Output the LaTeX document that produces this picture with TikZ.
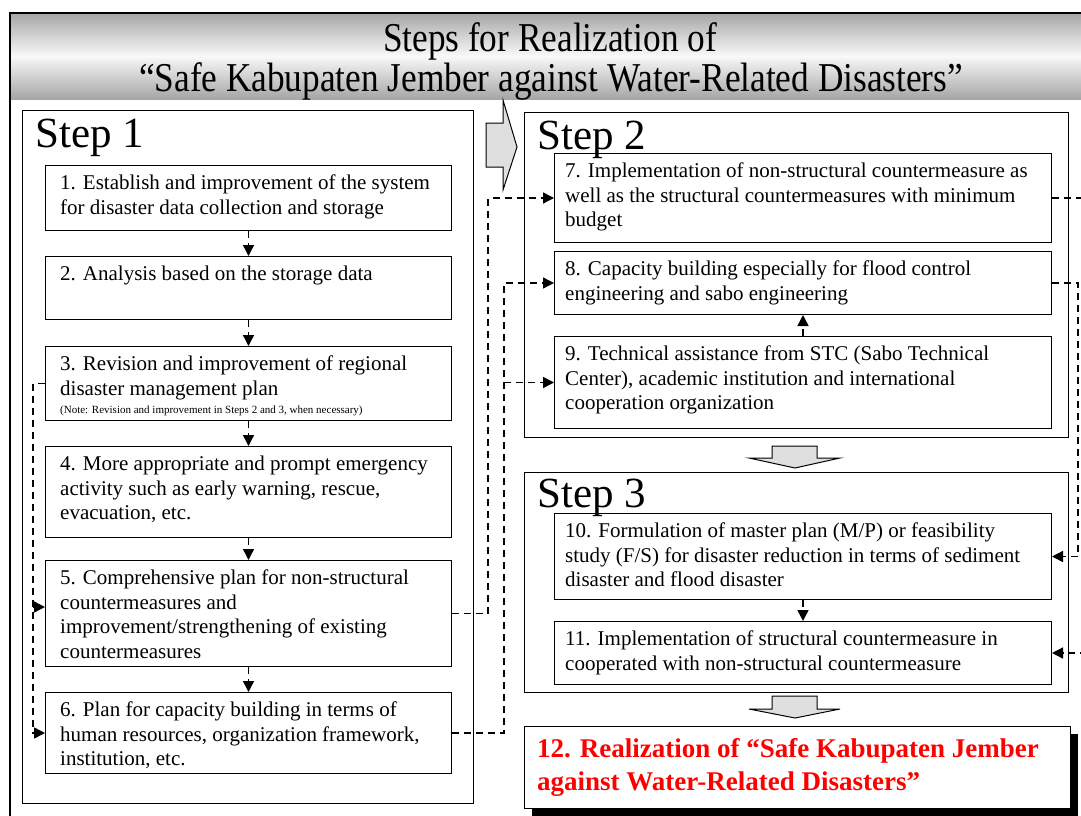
\documentclass[tikz,border=0pt]{standalone}
\usepackage{fontspec}
\setmainfont{Liberation Serif}
\newfontfamily\titlefont[FakeStretch=0.86]{Liberation Serif}
\usetikzlibrary{arrows.meta, positioning, shadows}

\begin{document}
\begin{tikzpicture}[x=1pt, y=-1pt,
    frame/.style={draw, line width=1.2pt, anchor=north west, inner sep=0pt},
    box/.style={draw, line width=1pt, anchor=north west, inner sep=0pt, minimum width=406pt},
    boxtext/.style={anchor=north west, inner xsep=15pt, inner ysep=10pt, align=left, font=\fontsize{21}{24.5}\selectfont},
    steplabel/.style={anchor=base west, inner sep=0pt, font=\fontsize{43}{43}\selectfont},
    link/.style={line width=1.4pt, dash pattern=on 7pt off 5pt, -{Triangle[length=11pt,width=11pt]}},
    blockarrow/.style={draw, line width=1pt, fill=gray!25, line join=miter}]
    \useasboundingbox (0,0) rectangle (1081,816);
    \clip (0,0) rectangle (1081,816);

    % Title band
    \shade[top color=gray!70, bottom color=gray!70, middle color=gray!5] (10,13) rectangle (1100,99);
    \draw[line width=1.6pt] (10,13) rectangle (1100,840);

    % Step frames
    \node[frame, minimum width=451pt, minimum height=693pt] (s1) at (22,110) {};
    \node[frame, minimum width=544pt, minimum height=325pt] (s2) at (524,112) {};
    \node[frame, minimum width=544pt, minimum height=220pt] (s3) at (524,472) {};
    \node[steplabel] (s1l) at (35,147) {Step 1};
    \node[steplabel] (s2l) at (537,149) {Step 2};
    \node[steplabel] (s3l) at (537,507) {Step 3};

    % Step 1
    \node[box, minimum height=65pt] (b1) at (45,165) {};
    \node[boxtext] (b1t) at (b1.north west) {1. Establish and improvement of the system\\ for disaster data collection and storage};
    \node[box, minimum height=63pt] (b2) at (45,256) {};
    \node[boxtext] (b2t) at (b2.north west) {2. Analysis based on the storage data};
    \node[box, minimum height=74pt] (b3) at (45,346) {};
    \node[boxtext] (b3t) at (b3.north west) {3. Revision and improvement of regional\\ disaster management plan\\[-6pt]
        {\fontsize{11}{13}\selectfont (Note: Revision and improvement in Steps 2 and 3, when necessary)}};
    \node[box, minimum height=91pt] (b4) at (45,446) {};
    \node[boxtext] (b4t) at (b4.north west) {4. More appropriate and prompt emergency\\ activity such as early warning, rescue,\\ evacuation, etc.};
    \node[box, minimum height=106pt] (b5) at (45,560) {};
    \node[boxtext] (b5t) at (b5.north west) {5. Comprehensive plan for non-structural\\ countermeasures and\\ improvement/strengthening of existing\\ countermeasures};
    \node[box, minimum height=81pt] (b6) at (45,692) {};
    \node[boxtext] (b6t) at (b6.north west) {6. Plan for capacity building in terms of\\ human resources, organization framework,\\ institution, etc.};

    % Step 2
    \node[box, minimum width=497pt, minimum height=89pt] (b7) at (554,153) {};
    \node[boxtext, inner xsep=11pt] (b7t) at (b7.north west) {7. Implementation of non-structural countermeasure as\\ well as the structural countermeasures with minimum\\ budget};
    \node[box, minimum width=497pt, minimum height=63pt] (b8) at (554,251) {};
    \node[boxtext, inner xsep=11pt] (b8t) at (b8.north west) {8. Capacity building especially for flood control\\ engineering and sabo engineering};
    \node[box, minimum width=497pt, minimum height=92pt] (b9) at (554,336) {};
    \node[boxtext, inner xsep=11pt] (b9t) at (b9.north west) {9. Technical assistance from STC (Sabo Technical\\ Center), academic institution and international\\ cooperation organization};

    % Step 3
    \node[box, minimum width=497pt, minimum height=86pt] (b10) at (554,513) {};
    \node[boxtext, inner xsep=11pt] (b10t) at (b10.north west) {10. Formulation of master plan (M/P) or feasibility\\ study (F/S) for disaster reduction in terms of sediment\\ disaster and flood disaster};
    \node[box, minimum width=497pt, minimum height=63pt] (b11) at (554,621) {};
    \node[boxtext, inner xsep=11pt] (b11t) at (b11.north west) {11. Implementation of structural countermeasure in\\ cooperated with non-structural countermeasure};

    % Goal
    \node[frame, fill=white, minimum width=546pt, minimum height=82pt,
        drop shadow={shadow xshift=7pt, shadow yshift=-7pt, fill=black, opacity=1}] (b12) at (524,726) {};
    \node[anchor=north west, inner xsep=13pt, inner ysep=12pt, align=left, text=red,
        font=\fontsize{27}{33}\selectfont\bfseries] (b12t) at (b12.north west) {12. Realization of “Safe Kabupaten Jember\\ against Water-Related Disasters”};

    % Block arrows
    \draw[blockarrow] (486,123) -- (503,123) -- (503,100) -- (517,147) -- (503,190) -- (503,167) -- (486,167) -- cycle;
    \draw[blockarrow] (772,446) -- (817,446) -- (817,458) -- (840,458) -- (795,468) -- (749,458) -- (772,458) -- cycle;
    \draw[blockarrow] (772,696) -- (817,696) -- (817,709) -- (840,709) -- (795,718) -- (749,709) -- (772,709) -- cycle;

    % Arrows inside the steps
    \draw[link] (b1) -- (b2);
    \draw[link] (b2) -- (b3);
    \draw[link] (b3) -- (b4);
    \draw[link] (b4) -- (b5);
    \draw[link] (b5) -- (b6);
    \draw[link] (b9) -- (b8);
    \draw[link] (b10) -- (b11);

    % Dashed links
    \coordinate (lbus) at ([xshift=-12pt]b3.west);
    \draw[link] (b3.west) -- (lbus) |- (b6.west);
    \draw[link] (lbus |- 0,607) -- (b5.west |- 0,607);
    \coordinate (rbus) at ([xshift=52pt]b6.east);
    \draw[link] (b5.east) -- ++(36,0) |- (b7.west);
    \draw[link] (b6.east) -- (rbus) |- (b8.west);
    \draw[link] (rbus |- b9.west) -- (b9.west);
    \draw[link] (b7.east) -- ++(60,0) |- (b11.east);
    \draw[link] (b8.east) -- ++(26,0) |- (b10.east);

    % Title
    \node[anchor=base, inner sep=0pt, font=\titlefont\fontsize{41}{41}\selectfont] (title1) at (550,52) {Steps for Realization of};
    \node[anchor=base, inner sep=0pt, font=\titlefont\fontsize{41}{41}\selectfont] (title2) at (551,92) {“Safe Kabupaten Jember against Water-Related Disasters”};
\end{tikzpicture}
\end{document}
